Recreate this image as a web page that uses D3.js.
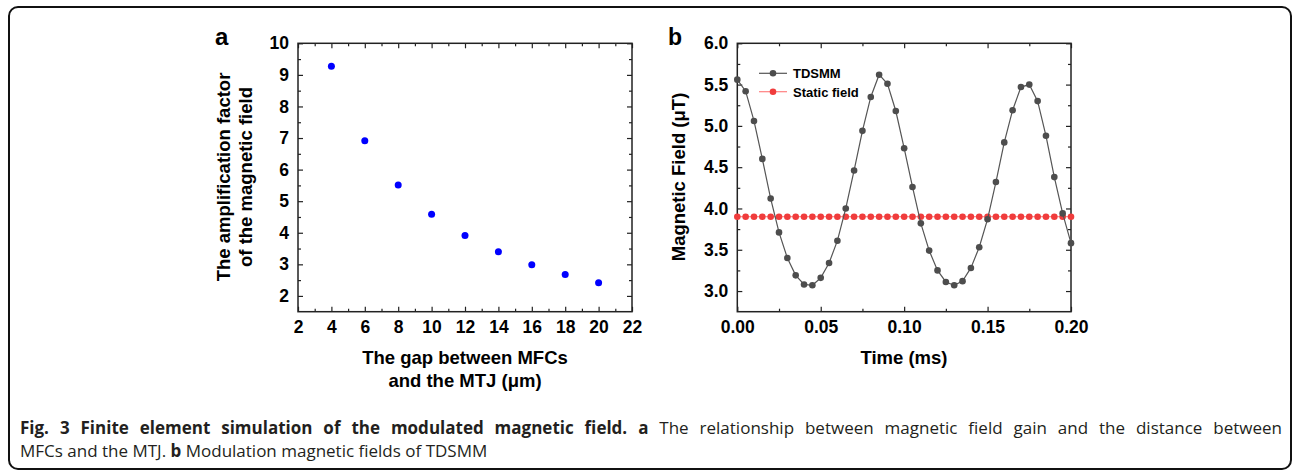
<!DOCTYPE html>
<html>
<head>
<meta charset="utf-8">
<script src="https://cdn.jsdelivr.net/npm/d3@7"></script>
<style>
  body { margin: 0; background: #fff; }
  svg { display: block; }
</style>
</head>
<body>
<div id="fig"></div>
<script>
// ---- panel a data ----
const gapUm = [4, 6, 8, 10, 12, 14, 16, 18, 20];
const gainFactor = [9.27, 6.91, 5.51, 4.59, 3.91, 3.40, 2.99, 2.68, 2.42];
const gapTicks = [2, 4, 6, 8, 10, 12, 14, 16, 18, 20, 22];
const gapMinor = [3, 5, 7, 9, 11, 13, 15, 17, 19, 21];
const gainTicks = [2, 3, 4, 5, 6, 7, 8, 9, 10];
const gainMinor = [2.5, 3.5, 4.5, 5.5, 6.5, 7.5, 8.5, 9.5];

// ---- panel b data ----
const timeMs = [0, 0.005, 0.01, 0.015, 0.02, 0.025, 0.03, 0.035, 0.04, 0.045,
  0.05, 0.055, 0.06, 0.065, 0.07, 0.075, 0.08, 0.085, 0.09, 0.095,
  0.1, 0.105, 0.11, 0.115, 0.12, 0.125, 0.13, 0.135, 0.14, 0.145,
  0.15, 0.155, 0.16, 0.165, 0.17, 0.175, 0.18, 0.185, 0.19, 0.195, 0.2];
const tdsmm = [5.56, 5.42, 5.06, 4.60, 4.12, 3.71, 3.40, 3.19, 3.08, 3.07,
  3.16, 3.34, 3.61, 4.00, 4.46, 4.94, 5.35, 5.62, 5.51, 5.18,
  4.73, 4.26, 3.82, 3.49, 3.25, 3.11, 3.07, 3.12, 3.28, 3.53,
  3.87, 4.32, 4.80, 5.19, 5.47, 5.50, 5.30, 4.88, 4.38, 3.94, 3.58];
const staticField = [3.9, 3.9, 3.9, 3.9, 3.9, 3.9, 3.9, 3.9, 3.9, 3.9,
  3.9, 3.9, 3.9, 3.9, 3.9, 3.9, 3.9, 3.9, 3.9, 3.9,
  3.9, 3.9, 3.9, 3.9, 3.9, 3.9, 3.9, 3.9, 3.9, 3.9,
  3.9, 3.9, 3.9, 3.9, 3.9, 3.9, 3.9, 3.9, 3.9, 3.9, 3.9];
const timeTicks = [0, 0.05, 0.1, 0.15, 0.2];
const timeMinor = [0.025, 0.075, 0.125, 0.175];
const fieldTicks = [3.0, 3.5, 4.0, 4.5, 5.0, 5.5, 6.0];
const fieldMinor = [3.25, 3.75, 4.25, 4.75, 5.25, 5.75];
const seriesNames = ['TDSMM', 'Static field'];

const W = 1292, H = 470;
const FONT = '"Liberation Sans", Arial, sans-serif';

const svg = d3.select('#fig').append('svg')
  .attr('width', W).attr('height', H);

// rounded outer frame
svg.append('rect')
  .attr('x', 9).attr('y', 7).attr('width', 1282).attr('height', 462)
  .attr('rx', 9).attr('fill', 'none').attr('stroke', '#111').attr('stroke-width', 2);

// draws a boxed plot with inward ticks on all four sides
function boxAxes(x, y, xTicks, xMinor, yTicks, yMinor, xFmt, yFmt) {
  const [x0, x1] = x.range(), [y0, y1] = y.range();
  const none = () => '';
  const sets = [
    [d3.axisBottom(x).tickValues(xTicks).tickFormat(xFmt).tickSize(-5).tickPadding(9), `translate(0,${y0})`],
    [d3.axisBottom(x).tickValues(xMinor).tickFormat(none).tickSize(-3), `translate(0,${y0})`],
    [d3.axisTop(x).tickValues(xTicks).tickFormat(none).tickSize(-5), `translate(0,${y1})`],
    [d3.axisTop(x).tickValues(xMinor).tickFormat(none).tickSize(-3), `translate(0,${y1})`],
    [d3.axisLeft(y).tickValues(yTicks).tickFormat(yFmt).tickSize(-5).tickPadding(9), `translate(${x0},0)`],
    [d3.axisLeft(y).tickValues(yMinor).tickFormat(none).tickSize(-3), `translate(${x0},0)`],
    [d3.axisRight(y).tickValues(yTicks).tickFormat(none).tickSize(-5), `translate(${x1},0)`],
    [d3.axisRight(y).tickValues(yMinor).tickFormat(none).tickSize(-3), `translate(${x1},0)`]
  ];
  sets.forEach(([ax, tr]) => {
    const g = svg.append('g').attr('transform', tr).call(ax)
      .attr('font-family', FONT).attr('font-size', 17.5).attr('font-weight', 'bold');
    g.select('.domain').remove();
    g.selectAll('.tick line').attr('stroke', '#222').attr('stroke-width', 1.2);
    g.selectAll('.tick text').attr('fill', '#000');
  });
  svg.append('rect')
    .attr('x', x0).attr('y', y1).attr('width', x1 - x0).attr('height', y0 - y1)
    .attr('fill', 'none').attr('stroke', '#222').attr('stroke-width', 1.5);
}

function label(txt, x, y, size, rotate, anchor) {
  const t = svg.append('text')
    .attr('font-family', FONT).attr('font-weight', 'bold').attr('font-size', size)
    .attr('text-anchor', anchor || 'middle').attr('fill', '#000').text(txt);
  if (rotate) t.attr('transform', `translate(${x},${y}) rotate(-90)`);
  else t.attr('x', x).attr('y', y);
  return t;
}

// ---------------- panel a ----------------
const xa = d3.scaleLinear().domain([2, 22]).range([298, 632]);
const ya = d3.scaleLinear().domain([1.5, 10]).range([311.7, 43.3]);
boxAxes(xa, ya, gapTicks, gapMinor, gainTicks, gainMinor, d3.format('d'), d3.format('d'));

svg.append('g').selectAll('circle')
  .data(gapUm)
  .join('circle')
  .attr('cx', d => xa(d))
  .attr('cy', (d, i) => ya(gainFactor[i]))
  .attr('r', 3.5)
  .attr('fill', '#0000ff');

label('a', 215, 45, 24, false, 'start');
label('The amplification factor', 230, 177, 18.5, true);
label('of the magnetic field', 252, 177, 18.5, true);
label('The gap between MFCs', 465, 364, 18.5);
label('and the MTJ (\u03bcm)', 465, 387, 18.5);

// ---------------- panel b ----------------
const xb = d3.scaleLinear().domain([0, 0.2]).range([737.3, 1071]);
const yb = d3.scaleLinear().domain([2.75, 6]).range([311.7, 43.3]);
boxAxes(xb, yb, timeTicks, timeMinor, fieldTicks, fieldMinor, d3.format('.2f'), d3.format('.1f'));

const plotB = svg.append('g');
const lineGen = d3.line().x(d => xb(d[0])).y(d => yb(d[1]));
const tdsmmPts = timeMs.map((t, i) => [t, tdsmm[i]]);
const staticPts = timeMs.map((t, i) => [t, staticField[i]]);

plotB.append('path').datum(staticPts)
  .attr('d', lineGen).attr('fill', 'none').attr('stroke', '#ff7070').attr('stroke-width', 1);
plotB.append('g').selectAll('circle').data(staticPts).join('circle')
  .attr('cx', d => xb(d[0])).attr('cy', d => yb(d[1])).attr('r', 3.3)
  .attr('fill', '#f03c3c');

plotB.append('path').datum(tdsmmPts)
  .attr('d', lineGen).attr('fill', 'none').attr('stroke', '#555').attr('stroke-width', 1.2);
plotB.append('g').selectAll('circle').data(tdsmmPts).join('circle')
  .attr('cx', d => xb(d[0])).attr('cy', d => yb(d[1])).attr('r', 3.3)
  .attr('fill', '#4d4d4d');

// legend
const legColors = [['#555', '#4d4d4d'], ['#ff8080', '#f03c3c']];
seriesNames.forEach((name, i) => {
  const ly = 73.3 + i * 18.4;
  svg.append('line').attr('x1', 759).attr('x2', 787).attr('y1', ly).attr('y2', ly)
    .attr('stroke', legColors[i][0]).attr('stroke-width', 1.2);
  svg.append('circle').attr('cx', 773).attr('cy', ly).attr('r', 3.3).attr('fill', legColors[i][1]);
  label(name, 793, ly + 4.8, 13, false, 'start');
});

label('b', 668, 45, 23, false, 'start');
label('Magnetic Field (\u03bcT)', 685, 177, 18.5, true);
label('Time (ms)', 904, 364, 18.5);

// ---------------- caption ----------------
const CAP = '"Open Sans", "Noto Sans", sans-serif';
const cap1 = svg.append('text').attr('x', 20).attr('y', 434)
  .attr('font-family', CAP).attr('font-size', 17).attr('fill', '#231f20');
cap1.append('tspan').attr('font-weight', 'bold')
  .text('Fig. 3 Finite element simulation of the modulated magnetic field. a');
cap1.append('tspan')
  .text(' The relationship between magnetic field gain and the distance between');
const full = cap1.node().getComputedTextLength();
const spaces = cap1.text().split(' ').length - 1;
cap1.attr('word-spacing', (1262 - full) / spaces);

const cap2 = svg.append('text').attr('x', 20).attr('y', 457)
  .attr('font-family', CAP).attr('font-size', 17).attr('fill', '#231f20');
cap2.append('tspan').text('MFCs and the MTJ. ');
cap2.append('tspan').attr('font-weight', 'bold').text('b');
cap2.append('tspan').text(' Modulation magnetic fields of TDSMM');
</script>
</body>
</html>
